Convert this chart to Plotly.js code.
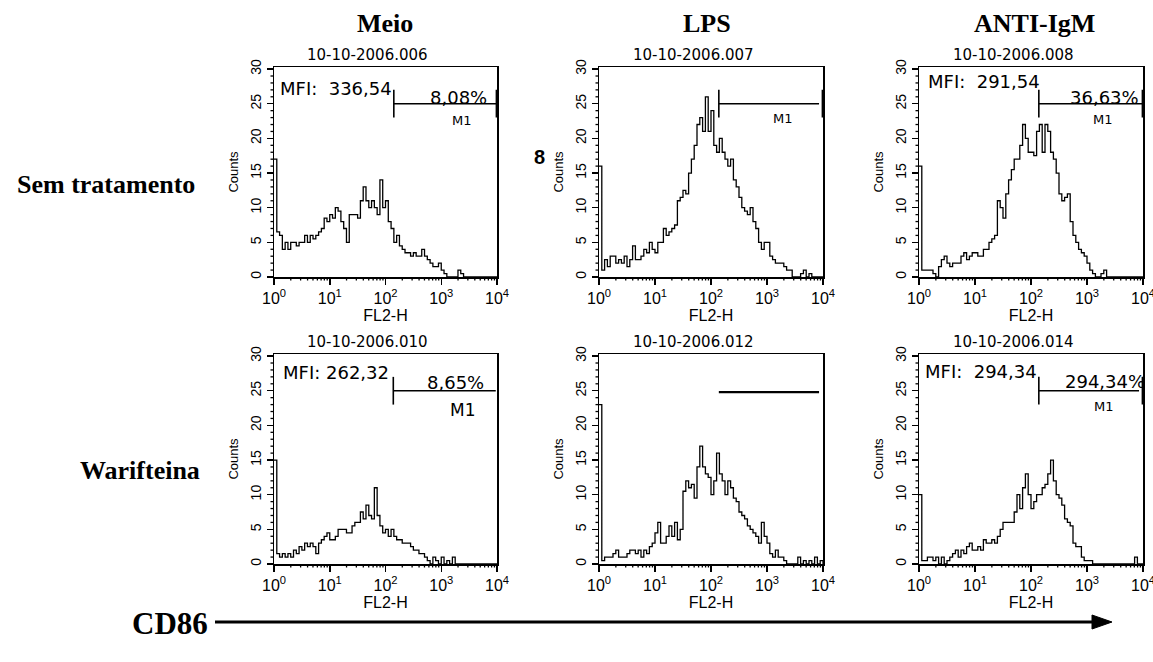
<!DOCTYPE html>
<html><head><meta charset="utf-8">
<script src="https://cdn.plot.ly/plotly-3.0.1.min.js"></script>
<style>html,body{margin:0;padding:0;background:#fff}#chart{width:1153px;height:662px}</style>
</head><body><div id="chart"></div>
<script>
// channel positions (in decades, log10 of FL2-H)
const channelDecades = [0,0.05,0.1,0.15,0.2,0.25,0.3,0.35,0.4,0.45,0.5,0.55,0.6,0.65,0.7,0.75,0.8,0.85,0.9,0.95,
 1,1.05,1.1,1.15,1.2,1.25,1.3,1.35,1.4,1.45,1.5,1.55,1.6,1.65,1.7,1.75,1.8,1.85,1.9,1.95,
 2,2.05,2.1,2.15,2.2,2.25,2.3,2.35,2.4,2.45,2.5,2.55,2.6,2.65,2.7,2.75,2.8,2.85,2.9,2.95,
 3,3.05,3.1,3.15,3.2,3.25,3.3,3.35,3.4,3.45,3.5,3.55,3.6,3.65,3.7,3.75,3.8,3.85,3.9,3.95,4];

const meioSem = [17,6.5,6,4,5,4,5,5,4.5,5, 5,6,5,6,5.5,6,6.5,7,8.5,8,
 9,8.5,10,9.5,8,7,5,9,9,9, 8.5,11,13,11,10,11,10,9,14,10,
 11,8,7,5,6,4.5,4,3.5,3.5,3, 3.5,3,3,4,3,2.5,2,1.5,1.5,2,
 1,0.5,0,0,0,0,1,0.5,0,0, 0,0,0,0,0,0,0,0,0,0, 0];
const lpsSem = [16,1,2.5,1.5,3,3,2,2.5,2,3, 1.5,2.5,4.5,2.5,2.5,3,4,3.5,5,4,
 3.5,5,5,7,6,6.5,7,7.5,11,11.5, 12.5,12,15,17,19,22,23,21,26,21,
 24,19,18,20,18,17,16,17,14,13, 11.5,10,9.5,9,10,8,7,5,4,5,
 5,3,2.5,2,2,2,1.5,1,1,0, 0,0,0.5,1,0,0.5,0,0,0,0, 0];
const igmSem = [16,1,1,1,1,0.5,0,1.5,2.5,3, 2,1.5,2,2,2,3,3.5,2.5,3,3.5,
 3.5,3,3,4,4,5,5.5,6,11,10, 8.5,12,14,15.5,17,17,19,22,20,18,
 18,17.5,21,22,18,22,21,18,17,15, 12,11,11.5,12,8,6,5,4,3.5,3,
 2,1,0.5,0,0,0.5,1,0,0,0, 0,0,0,0,0,0,0,0,0,0, 0];
const meioWar = [15,1.5,1,1.5,1,1.5,1,2,1.5,2.5, 2,3,2.5,3,2.5,1.5,3,3.5,4,4.5,
 3.5,3.5,4,5,5,5,4.5,4.5,5.5,6, 6,7.5,6.5,8.5,7,6.5,11,7,5.5,4.5,
 5,4,5,4,3.5,3.5,3,3,3,2.5, 2,2,1.5,1.5,1,0.5,0,1,0.5,0,
 1,0,0.5,0,1,0,0,0,0,0, 0,0,0,0,0,0,0,0,0,0, 0];
const lpsWar = [23,0.5,1,1,1,1.5,2,1,1,1, 1.5,2,2,1.5,2,1,2,1.5,2.5,3,
 4.5,6,3,3,4,5.5,4,6,3.5,5, 10.5,12,11,11.5,9.5,14,17,14,13,12.5,
 10,12,16,13,12,10,12,11,9.5,9, 7.5,7,6.5,5.5,5,4.5,4,3,6,4,
 3,1.5,1,2,1,1,0.5,0,0,0, 0,1,0,0.5,0,0.5,0,1,0,0.5, 0];
const igmWar = [10,0.5,0.5,1,1,0.5,1,0,1,0, 0.5,1,1.5,2,1,2,1.5,2.5,3,2,
 2,2.5,2,3.5,3,3,3.5,3,4,5, 6,6,6,6,7.5,10,8,11,13,10,
 8,9,10,10,11,11.5,13,15,12,10, 9.5,8.5,6.5,6,5.5,3,2.5,2.5,1,0.5,
 0.5,0.5,0,0,0,0,0,0,0,0, 0,0,0,0,0,0,0,1,0,0, 0];

const columnTitles = ['Meio','LPS','ANTI-IgM'];
const rowTitles = ['Sem tratamento','Warifteina'];
const fileNames = ['10-10-2006.006','10-10-2006.007','10-10-2006.008','10-10-2006.010','10-10-2006.012','10-10-2006.014'];
const mfiLabels = ['MFI:\u00a0\u00a0336,54','','MFI:\u00a0\u00a0291,54','MFI: 262,32','','MFI:\u00a0\u00a0294,34'];
const pctLabels = ['8,08%','','36,63%','8,65%','','294,34%'];
const gateNames = ['M1','M1','M1','M1','','M1'];
const gateStart = [141,138,138,138,138,138];
const gateEnd = [9900,8500,9900,9500,8500,8500];
const gateLevel = [25,25,25,25,24.8,25];
const gateBarLow = 23, gateBarHigh = 27;
const gateLeftBar = [true,true,true,true,false,true];
const gateRightBar = [true,true,true,false,false,true];
const xTickVals = [1,10,100,1000,10000];
const xTickText = ['10<sup>0</sup>','10<sup>1</sup>','10<sup>2</sup>','10<sup>3</sup>','10<sup>4</sup>'];
const xMinor = [2,3,4,5,6,7,8,9,20,30,40,50,60,70,80,90,200,300,400,500,600,700,800,900,2000,3000,4000,5000,6000,7000,8000,9000];
const yTickVals = [0,5,10,15,20,25,30];
const yMinor = [1,2,3,4,6,7,8,9,11,12,13,14,16,17,18,19,21,22,23,24,26,27,28,29];
const series = [meioSem, lpsSem, igmSem, meioWar, lpsWar, igmWar];

const W = 1153, H = 662;
const colPx = [[274,497],[599,823],[919,1143]];
const rowPx = [[67,277],[354,564]];
const xRangeDec = [0, 4];
const yMax = 30.3;
const minorLen = 3.5; // px
const sans = 'Liberation Sans, Arial, sans-serif';
const wide = 'DejaVu Sans, sans-serif';
const serif = 'Liberation Serif, Times New Roman, serif';

const fluor = channelDecades.map(d => Math.pow(10, d));
const traces = [], shapes = [], annotations = [];
const layout = {width:W, height:H, margin:{l:0,r:0,t:0,b:0}, showlegend:false,
  paper_bgcolor:'#fff', plot_bgcolor:'#fff'};

series.forEach((counts, i) => {
  const r = Math.floor(i/3), c = i%3;
  const n = i === 0 ? '' : String(i+1);
  const xa = 'x'+n, ya = 'y'+n;
  const xd = [colPx[c][0]/W, colPx[c][1]/W];
  const yd = [1-rowPx[r][1]/H, 1-rowPx[r][0]/H];
  layout['xaxis'+n] = {domain:xd, anchor:ya, type:'log', range:xRangeDec, tickmode:'array',
    tickvals:xTickVals, ticktext:xTickText, ticks:'outside', ticklen:6, tickwidth:1.5, tickcolor:'#000',
    showline:true, linecolor:'#000', linewidth:1.5, mirror:true, showgrid:false, zeroline:false,
    ticklabeloverflow:'allow',
    tickfont:{family:sans, size:16, color:'#000'},
    title:{text:'FL2-H', font:{family:sans, size:16, color:'#000'}, standoff:0},
    fixedrange:true};
  layout['yaxis'+n] = {domain:yd, anchor:xa, range:[0,yMax], tickmode:'array', tickvals:yTickVals,
    ticks:'outside', ticklen:6, tickwidth:1.5, tickcolor:'#000', tickangle:-90,
    showline:true, linecolor:'#000', linewidth:1.5, mirror:true, showgrid:false, zeroline:false,
    tickfont:{family:sans, size:14, color:'#000'},
    title:{text:'Counts', font:{family:sans, size:13, color:'#000'}, standoff:6},
    fixedrange:true};

  // minor ticks: mapped through the axis scale onto the page (outside the clipped plot area)
  const xToPaper = v => xd[0] + (Math.log10(v) - xRangeDec[0]) / (xRangeDec[1] - xRangeDec[0]) * (xd[1] - xd[0]);
  const yToPaper = v => yd[0] + v / yMax * (yd[1] - yd[0]);
  xMinor.forEach(v => shapes.push({type:'line', layer:'above', xref:'paper', yref:'paper',
    x0:xToPaper(v), x1:xToPaper(v), y0:yd[0], y1:yd[0] - minorLen/H, line:{color:'#000', width:1.3}}));
  yMinor.forEach(v => shapes.push({type:'line', layer:'above', xref:'paper', yref:'paper',
    x0:xd[0] - minorLen/W, x1:xd[0], y0:yToPaper(v), y1:yToPaper(v), line:{color:'#000', width:1.3}}));

  traces.push({type:'scatter', mode:'lines', x:fluor, y:counts, xaxis:xa, yaxis:ya,
    line:{shape:'hv', color:'#000', width:1.3}, hoverinfo:'skip'});

  // gate marker
  const g = {xref:xa, yref:ya, type:'line', line:{color:'#000', width: i===4 ? 2.2 : 1.6}};
  shapes.push(Object.assign({}, g, {x0:gateStart[i], x1:gateEnd[i], y0:gateLevel[i], y1:gateLevel[i]}));
  if (gateLeftBar[i]) shapes.push(Object.assign({}, g, {x0:gateStart[i], x1:gateStart[i], y0:gateBarLow, y1:gateBarHigh}));
  if (gateRightBar[i]) shapes.push(Object.assign({}, g, {x0:9880, x1:9880, y0:gateBarLow, y1:gateBarHigh, line:{color:'#000', width:2.2}}));

  const xdr = xa + ' domain', ydr = ya + ' domain';
  annotations.push({xref:xdr, yref:ydr, x:0.42, y:1.057, text:fileNames[i], showarrow:false,
    xanchor:'center', yanchor:'middle', font:{family:wide, size:15, color:'#000'}});
  const pos = [
    {mfi:[0.018,0.90], pct:[0.964,0.857], m1:[0.843,0.743], m1s:13},
    {mfi:[0,0], pct:[0,0], m1:[0.821,0.757], m1s:13},
    {mfi:[0.031,0.929], pct:[0.991,0.857], m1:[0.821,0.748], m1s:13},
    {mfi:[0.031,0.914], pct:[0.951,0.862], m1:[0.844,0.733], m1s:17},
    {mfi:[0,0], pct:[0,0], m1:[0,0], m1s:13},
    {mfi:[0.018,0.919], pct:[1.018,0.867], m1:[0.826,0.748], m1s:13}
  ][i];
  if (mfiLabels[i]) annotations.push({xref:xdr, yref:ydr, x:pos.mfi[0], y:pos.mfi[1], text:mfiLabels[i],
    showarrow:false, xanchor:'left', yanchor:'middle', font:{family:wide, size:18, color:'#000'}});
  if (pctLabels[i]) annotations.push({xref:xdr, yref:ydr, x:pos.pct[0], y:pos.pct[1], text:pctLabels[i],
    showarrow:false, xanchor:'right', yanchor:'middle', font:{family:wide, size:18, color:'#000'}});
  if (gateNames[i]) annotations.push({xref:xdr, yref:ydr, x:pos.m1[0], y:pos.m1[1], text:gateNames[i],
    showarrow:false, xanchor:'center', yanchor:'middle', font:{family:wide, size:pos.m1s, color:'#000'}});
});

// column and row titles
const colCenters = [385, 707, 1034];
columnTitles.forEach((t, c) => annotations.push({xref:'paper', yref:'paper', x:colCenters[c]/W, y:1-23.5/H,
  text:'<b>'+t+'</b>', showarrow:false, xanchor:'center', yanchor:'middle', font:{family:serif, size:26, color:'#000'}}));
const rowCenters = [[106,185],[140,470]];
rowTitles.forEach((t, r) => annotations.push({xref:'paper', yref:'paper', x:rowCenters[r][0]/W, y:1-rowCenters[r][1]/H,
  text:'<b>'+t+'</b>', showarrow:false, xanchor:'center', yanchor:'middle', font:{family:serif, size:26, color:'#000'}}));
annotations.push({xref:'paper', yref:'paper', x:539/W, y:1-157/H, text:'<b>8</b>', showarrow:false,
  xanchor:'center', yanchor:'middle', font:{family:sans, size:20, color:'#000'}});
annotations.push({xref:'paper', yref:'paper', x:170/W, y:1-623/H, text:'<b>CD86</b>', showarrow:false,
  xanchor:'center', yanchor:'middle', font:{family:serif, size:31, color:'#000'}});
// axis arrow
shapes.push({xref:'paper', yref:'paper', type:'line', x0:215/W, x1:1096/W, y0:1-622/H, y1:1-622/H, line:{color:'#000', width:3}});
shapes.push({xref:'paper', yref:'paper', type:'path',
  path:`M ${1092/W} ${1-615/H} L ${1112/W} ${1-622/H} L ${1092/W} ${1-629/H} Z`, fillcolor:'#000', line:{color:'#000', width:1}});

layout.shapes = shapes;
layout.annotations = annotations;
Plotly.newPlot('chart', traces, layout, {staticPlot:true, displayModeBar:false});
</script></body></html>
